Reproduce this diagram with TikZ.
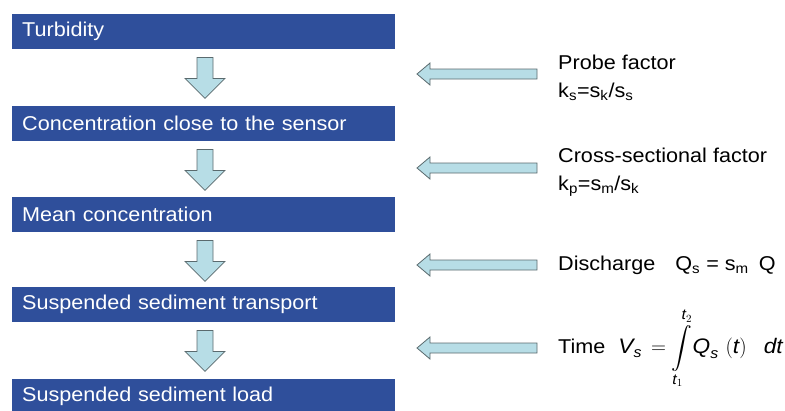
\documentclass[tikz,border=0pt]{standalone}
\usepackage{fontspec}
\usepackage{amsmath}
\setmainfont{Liberation Sans}[FakeStretch=1.08]
\usetikzlibrary{calc}
\definecolor{barblue}{HTML}{2F4F9B}
\definecolor{arrowfill}{HTML}{B7DDE6}
\definecolor{arrowedge}{HTML}{5A6A6E}
\tikzset{
 bar/.style={fill=barblue,text=white,anchor=north west,minimum height=35pt,text width=363pt,inner xsep=10pt,inner ysep=0pt,font=\fontsize{20}{24}\selectfont},
 blk/.style={fill=arrowfill,draw=arrowedge,line width=0.8pt,line join=miter},
 lbl/.style={anchor=west,align=left,inner sep=0pt,font=\fontsize{20}{28}\selectfont}
}
\begin{document}
\begin{tikzpicture}[x=1pt,y=1pt]
\path[use as bounding box,clip] (0,0) rectangle (785,-410);
\node[bar] (b1) at (12,-14) {Turbidity};
\node[bar] (b2) at (12,-106) {Concentration close to the sensor};
\node[bar] (b3) at (12,-197) {Mean concentration};
\node[bar] (b4) at (12,-287) {Suspended sediment transport};
\node[bar] (b5) at (12,-379) {Suspended sediment load};
\coordinate (ax) at (205,0);
\foreach \a in {b1,b2,b3,b4}
 \draw[blk] ($(\a.south -| ax)+(-8,-8)$) -- ++(16,0) -- ++(0,-21) -- ++(12,0) -- ++(-20,-20) -- ++(-20,20) -- ++(12,0) -- cycle;
\node[lbl] (l1) at (558,-78) {Probe factor\\k\textsubscript{s}=s\textsubscript{k}/s\textsubscript{s}};
\node[lbl] (l2) at (558,-172) {Cross-sectional factor\\k\textsubscript{p}=s\textsubscript{m}/s\textsubscript{k}};
\node[lbl] (l3) at (558,-265) {Discharge\quad Q\textsubscript{s} = s\textsubscript{m}\enspace Q};
\node[lbl] (l4) at (558,-348) {Time\hspace{13pt}{\fontsize{21}{26}\selectfont $\displaystyle \textit{V}_{\textit{s}}\, = \int\limits_{\textit{t}_1}^{\mathstrut\textit{t}_2}\!\textit{Q}_{\textit{s}}\,\,(\textit{t})\;\;\;\textit{dt}$}};
\foreach \l/\dy in {l1/9,l2/9,l3/5,l4/5}
 \draw[blk] ($(\l.west)+(-21,\dy)$) -- ++(-107,0) -- ++(0,6) -- ++(-13,-11) -- ++(13,-11) -- ++(0,6) -- ++(107,0) -- cycle;
\end{tikzpicture}
\end{document}
